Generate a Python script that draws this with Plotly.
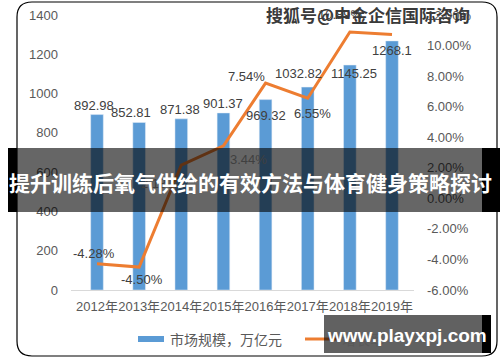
import plotly.graph_objects as go

years = ["2012年", "2013年", "2014年", "2015年", "2016年", "2017年", "2018年", "2019年"]
market = [892.98, 852.81, 871.38, 901.37, 969.32, 1032.82, 1145.25, 1268.1]
growth = [-4.28, -4.50, 2.18, 3.44, 7.54, 6.55, 10.89, 10.73]
growth_labels = ["-4.28%", "-4.50%", "2.18%", "3.44%", "7.54%", "6.55%", "10.89%", None]
bar_label_shift = [(-3, 9), (-8, 9.5), (-1, 9), (0, 9), (0, -16), (-9, 14), (4, -8), (0, -10)]
line_label_shift = [(-3, 10), (3, -12), (-22, -18), (25, -13.5), (-19, 7), (5, -15), (-9, 17), None]
left_ticks = [0, 200, 400, 600, 800, 1000, 1200, 1400]
right_ticks = [-6, -4, -2, 0, 2, 4, 6, 8, 10, 12]

W, H = 500, 362
FONT = "Liberation Sans, Noto Sans CJK SC, sans-serif"
CJK = "Noto Sans CJK SC, sans-serif"
GRAY = "#595959"

def px(x):
    return x / W

def py(y):
    return 1 - y / H

fig = go.Figure()
fig.add_trace(go.Bar(x=years, y=market, marker_color="#5B9BD5", name="市场规模，万亿元",
                     showlegend=False))
fig.add_trace(go.Scatter(x=years, y=growth, yaxis="y2", mode="lines",
                         line=dict(color="#ED7D31", width=3), name="增长率", showlegend=False))

ann = []
for i, (c, v) in enumerate(zip(years, market)):
    dx, dy = bar_label_shift[i]
    ann.append(dict(x=c, y=v, xref="x", yref="y", text=f"{v:g}",
                    showarrow=False, xshift=dx, yshift=dy, yanchor="middle",
                    font=dict(family=FONT, size=13, color="#404040")))
for i, (c, v) in enumerate(zip(years, growth)):
    if growth_labels[i] is None:
        continue
    dx, dy = line_label_shift[i]
    ann.append(dict(x=c, y=v, xref="x", yref="y2", text=growth_labels[i],
                    showarrow=False, xshift=dx, yshift=dy, yanchor="middle",
                    font=dict(family=FONT, size=13, color="#404040")))

# legend (custom)
ann.append(dict(x=px(168), y=py(339), xref="paper", yref="paper", text="市场规模，万亿元",
                showarrow=False, xanchor="left", yanchor="middle",
                font=dict(family=CJK, size=14, color=GRAY)))
ann.append(dict(x=px(340), y=py(339), xref="paper", yref="paper", text="增长率",
                showarrow=False, xanchor="left", yanchor="middle",
                font=dict(family=CJK, size=14, color=GRAY)))

shapes = []
# rounded frame
x0, x1, y0, y1, r = px(17), px(497), py(2), py(356), 15
rx, ry = r / W, r / H
path = (f"M {x0+rx},{y0} L {x1-rx},{y0} Q {x1},{y0} {x1},{y0-ry} "
        f"L {x1},{y1+ry} Q {x1},{y1} {x1-rx},{y1} L {x0+rx},{y1} "
        f"Q {x0},{y1} {x0},{y1+ry} L {x0},{y0-ry} Q {x0},{y0} {x0+rx},{y0} Z")
shapes.append(dict(type="path", path=path, xref="paper", yref="paper",
                   line=dict(color="#000000", width=1.2), layer="below"))
# legend swatches
shapes.append(dict(type="rect", xref="paper", yref="paper", x0=px(138), x1=px(164),
                   y0=py(342), y1=py(336), fillcolor="#5B9BD5", line=dict(width=0)))
shapes.append(dict(type="line", xref="paper", yref="paper", x0=px(305), x1=px(337),
                   y0=py(339), y1=py(339), line=dict(color="#ED7D31", width=3)))
# banner overlay
shapes.append(dict(type="rect", xref="paper", yref="paper", x0=px(17), x1=px(482),
                   y0=py(212), y1=py(148), fillcolor="rgba(0,0,0,0.6)", line=dict(width=0),
                   layer="above"))
shapes.append(dict(type="rect", xref="paper", yref="paper", x0=px(8), x1=px(17),
                   y0=py(212), y1=py(148), fillcolor="#000000", line=dict(width=0),
                   layer="above"))
shapes.append(dict(type="rect", xref="paper", yref="paper", x0=px(482), x1=px(500),
                   y0=py(212), y1=py(148), fillcolor="#000000", line=dict(width=0),
                   layer="above"))
# bottom watermark box
shapes.append(dict(type="rect", xref="paper", yref="paper", x0=px(324), x1=px(482),
                   y0=py(353), y1=py(315), fillcolor="rgba(0,0,0,0.62)", line=dict(width=0),
                   layer="above"))
shapes.append(dict(type="rect", xref="paper", yref="paper", x0=px(482), x1=px(491),
                   y0=py(353), y1=py(315), fillcolor="#000000", line=dict(width=0),
                   layer="above"))

ann.append(dict(x=px(250), y=py(182), xref="paper", yref="paper",
                text="<b>提升训练后氧气供给的有效方法与体育健身策略探讨</b>",
                showarrow=False, xanchor="center", yanchor="middle",
                font=dict(family=CJK, size=21, color="#FFFFFF")))
ann.append(dict(x=px(407), y=py(335), xref="paper", yref="paper",
                text="<b>www.playxpj.com</b>",
                showarrow=False, xanchor="center", yanchor="middle",
                font=dict(family="Liberation Sans, sans-serif", size=19, color="#FFFFFF")))
ann.append(dict(x=px(368), y=py(15), xref="paper", yref="paper",
                text="<b>搜狐号@中金企信国际咨询</b>",
                showarrow=False, xanchor="center", yanchor="middle",
                font=dict(family=CJK, size=17, color="#3a3a3a")))

fig.update_layout(
    width=W, height=H,
    margin=dict(l=0, r=0, t=0, b=0, autoexpand=False),
    paper_bgcolor="#FFFFFF", plot_bgcolor="rgba(0,0,0,0)",
    bargap=0.7,
    showlegend=False,
    xaxis=dict(domain=[px(71), px(414)], showgrid=False, showline=True, linecolor="#D9D9D9",
               linewidth=1, ticks="", tickangle=0, automargin=False,
               tickfont=dict(family=FONT, size=13, color=GRAY),
               ticklabelstandoff=4, fixedrange=True),
    yaxis=dict(domain=[py(290), py(15)], range=[0, 1400], tickvals=left_ticks,
               showgrid=False, zeroline=False, showline=False, ticks="", automargin=False,
               tickfont=dict(family=FONT, size=13, color=GRAY), ticklabelstandoff=12),
    yaxis2=dict(overlaying="y", side="right", range=[-6, 12], tickvals=right_ticks,
                ticktext=[f"{v:.2f}%" for v in right_ticks], automargin=False,
                showgrid=False, zeroline=False, showline=False, ticks="",
                tickfont=dict(family=FONT, size=13, color=GRAY), ticklabelstandoff=12),
    annotations=ann,
    shapes=shapes,
)

fig.write_html("out.html", config={"displayModeBar": False},
               post_script="document.body.style.margin='0';document.body.style.overflow='hidden';")
